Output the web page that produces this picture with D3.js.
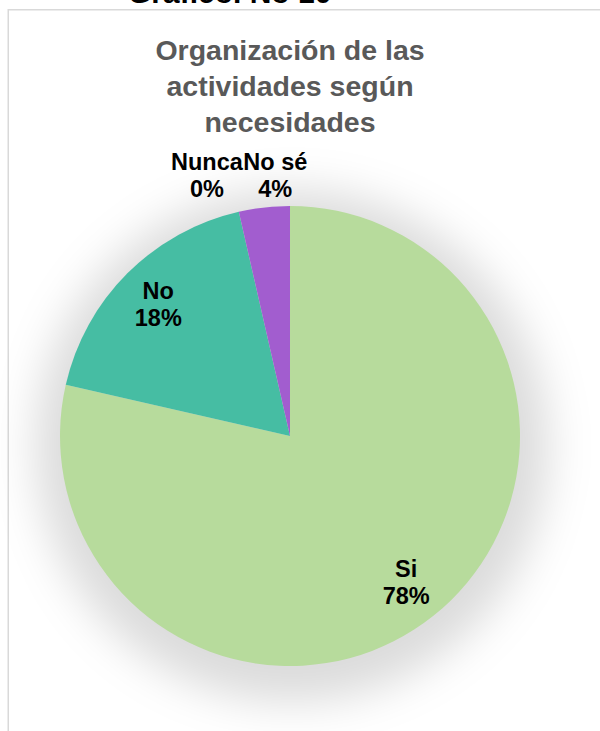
<!DOCTYPE html>
<html>
<head>
    <meta charset="utf-8" />
    <title>Organización de las actividades según necesidades</title>
    <style>
        body { margin: 0; background: #fff; }
        #pie_chart { width: 600px; height: 731px; }
        text { font-family: Arial, "Liberation Sans", sans-serif; font-weight: bold; }
    </style>
</head>
<body>
    <div id="pie_chart"></div>
    <script src="https://cdnjs.cloudflare.com/ajax/libs/d3/7.8.5/d3.min.js"></script>
    <script>
        // data
        var categories = ["Si", "No", "Nunca", "No sé"];
        var counts = [22, 5, 0, 1];
        var pctLabels = ["78%", "18%", "0%", "4%"];
        var colors = ["#B7DB9C", "#46BDA3", "#F4A261", "#A25DCF"];
        var titleLines = ["Organización de las", "actividades según", "necesidades"];
        var caption = "Gráfico. No 10";

        var width = 600, height = 731;
        var cx = 290, cy = 436, radius = 230;

        var svg = d3.select("#pie_chart")
            .append("svg")
            .attr("width", width)
            .attr("height", height);

        // soft shadow under the pie
        var defs = svg.append("defs");
        defs.append("filter")
            .attr("id", "soft")
            .attr("filterUnits", "userSpaceOnUse")
            .attr("x", -400).attr("y", -400)
            .attr("width", 800).attr("height", 800)
            .append("feGaussianBlur")
            .attr("stdDeviation", 22);

        // caption cut by the top of the picture
        svg.append("text")
            .attr("x", 128)
            .attr("y", 3)
            .attr("font-size", 30)
            .attr("fill", "#000")
            .text(caption);

        // chart area border (runs off right and bottom)
        svg.append("rect")
            .attr("x", 8.25)
            .attr("y", 9.75)
            .attr("width", 640)
            .attr("height", 800)
            .attr("fill", "#fff")
            .attr("stroke", "#d9d9d9")
            .attr("stroke-width", 1.5);

        // title
        svg.append("text")
            .attr("text-anchor", "middle")
            .attr("font-size", 28.5)
            .attr("fill", "#595959")
            .selectAll("tspan")
            .data(titleLines)
            .enter().append("tspan")
            .attr("x", cx)
            .attr("y", function (d, i) { return 60 + i * 36; })
            .text(function (d) { return d; });

        var pie = d3.pie().sort(null).value(function (d) { return d; });
        var arcs = pie(counts);
        var arc = d3.arc().innerRadius(0).outerRadius(radius);
        var labelArc = d3.arc().innerRadius(radius * 0.81).outerRadius(radius * 0.81);

        var g = svg.append("g").attr("transform", "translate(" + cx + "," + cy + ")");

        g.append("circle")
            .attr("cx", 2)
            .attr("cy", 10)
            .attr("r", radius + 26)
            .attr("fill", "#000")
            .attr("fill-opacity", 0.14)
            .attr("filter", "url(#soft)");

        g.selectAll("path.slice")
            .data(arcs)
            .enter().append("path")
            .attr("class", "slice")
            .attr("d", arc)
            .attr("fill", function (d, i) { return colors[i]; });

        // labels: big slices inside, small slices above the top of the pie
        var small = [];
        arcs.forEach(function (d, i) {
            var frac = (d.endAngle - d.startAngle) / (2 * Math.PI);
            var lg = svg.append("g");
            var t = lg.append("text")
                .attr("text-anchor", "middle")
                .attr("font-size", 23.5)
                .attr("fill", "#000");
            t.append("tspan").attr("x", 0).attr("y", -5).text(categories[i]);
            t.append("tspan").attr("x", 0).attr("y", 22).text(pctLabels[i]);
            if (frac >= 0.05) {
                var c = labelArc.centroid(d);
                lg.attr("transform", "translate(" + (cx + c[0]) + "," + (cy + c[1]) + ")");
            } else {
                small.push({ g: lg, d: d, w: t.node().getBBox().width });
            }
        });

        if (small.length) {
            // split point where the small slices meet
            var a = small[0].d.startAngle;
            var splitX = cx + Math.sin(a) * (radius - 20);
            var base2 = cy - radius - 9;
            small.forEach(function (s, k) {
                var x = k === 0 ? splitX - s.w / 2 : splitX + s.w / 2;
                s.g.attr("transform", "translate(" + x + "," + (base2 - 22) + ")");
            });
        }
    </script>
</body>
</html>
